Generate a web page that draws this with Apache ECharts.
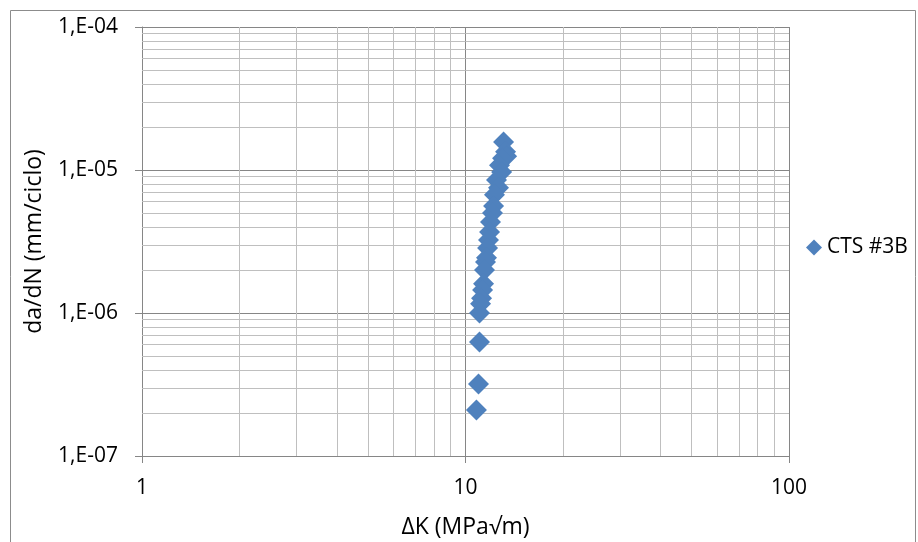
<!DOCTYPE html>
<html>
<head>
<meta charset="utf-8">
<script src="https://cdn.jsdelivr.net/npm/echarts@6/dist/echarts.min.js"></script>
<style>html,body{margin:0;padding:0;background:#fff}#c{width:918px;height:542px}</style>
</head>
<body>
<div id="c"></div>
<script>
const seriesName = 'CTS #3B';
const deltaK = [13.11, 13.30, 13.40, 13.02, 12.74, 12.93, 12.47, 12.65, 12.29, 12.21, 12.12, 11.95, 11.87, 11.78, 11.70, 11.61, 11.53, 11.45, 11.37, 11.29, 11.21, 11.13, 11.05, 11.05, 10.97, 10.81];
const dadN   = [1.57e-5, 1.34e-5, 1.25e-5, 1.21e-5, 1.08e-5, 9.7e-6, 8.5e-6, 7.5e-6, 6.7e-6, 5.6e-6, 5.0e-6, 4.33e-6, 3.69e-6, 3.24e-6, 2.85e-6, 2.43e-6, 2.27e-6, 2.0e-6, 1.6e-6, 1.45e-6, 1.27e-6, 1.16e-6, 1.0e-6, 6.27e-7, 3.19e-7, 2.1e-7];
const xDecades = [1, 10];
const yDecades = [1e-7, 1e-6, 1e-5];
const minorMultipliers = [2, 3, 4, 5, 6, 7, 8, 9];

const points = deltaK.map((k, i) => [k, dadN[i]]);
const xMinor = [];
xDecades.forEach(d => minorMultipliers.forEach(m => xMinor.push([{coord: [d * m, 1e-7]}, {coord: [d * m, 1e-4]}])));
const yMinor = [];
yDecades.forEach(d => minorMultipliers.forEach(m => yMinor.push([{coord: [1, d * m]}, {coord: [100, d * m]}])));

const font = 'Open Sans';
const minorStyle = {color: '#bfbfbf', width: 1, type: 'solid'};
const chart = echarts.init(document.getElementById('c'));
chart.setOption({
  animation: false,
  backgroundColor: '#fff',
  textStyle: {fontFamily: font},
  graphic: [{type: 'rect', shape: {x: 10.5, y: 10.5, width: 905, height: 540}, style: {fill: 'none', stroke: '#8c8c8c', lineWidth: 1}, silent: true}],
  grid: {left: 142, right: 129, top: 27, bottom: 86, containLabel: false, outerBoundsMode: 'none'},
  legend: {
    data: [seriesName], left: 801, top: 232, icon: 'diamond', itemWidth: 16, itemHeight: 16, itemGap: 12,
    textStyle: {fontFamily: font, fontSize: 21, color: '#000'}
  },
  xAxis: {
    type: 'log', logBase: 10, min: 1, max: 100,
    name: 'ΔK (MPa√m)', nameLocation: 'middle', nameGap: 60,
    nameTextStyle: {fontFamily: font, fontSize: 23, color: '#000'},
    axisLine: {show: true, onZero: false, lineStyle: {color: '#868686', width: 1}},
    axisTick: {show: true, length: 7, lineStyle: {color: '#868686'}},
    axisLabel: {fontFamily: font, fontSize: 21, color: '#000', margin: 22},
    splitLine: {show: true, lineStyle: {color: '#868686', width: 1}}
  },
  yAxis: {
    type: 'log', logBase: 10, min: 1e-7, max: 1e-4,
    name: 'da/dN (mm/ciclo)', nameLocation: 'middle', nameGap: 96,
    nameTextStyle: {fontFamily: font, fontSize: 23, color: '#000'},
    axisLine: {show: true, onZero: false, lineStyle: {color: '#868686', width: 1}},
    axisTick: {show: true, length: 7, lineStyle: {color: '#868686'}},
    axisLabel: {
      fontFamily: font, fontSize: 21, color: '#000', margin: 24,
      formatter: v => { const e = Math.round(Math.log10(v)); return '1,E' + (e < 0 ? '-' : '+') + String(Math.abs(e)).padStart(2, '0'); }
    },
    splitLine: {show: true, lineStyle: {color: '#868686', width: 1}}
  },
  series: [
    {
      name: 'minorX', type: 'line', data: [], silent: true, z: 1,
      markLine: {silent: true, symbol: 'none', label: {show: false}, animation: false, lineStyle: minorStyle, emphasis: {disabled: true}, data: xMinor}
    },
    {
      name: 'minorY', type: 'line', data: [], silent: true, z: 1,
      markLine: {silent: true, symbol: 'none', label: {show: false}, animation: false, lineStyle: minorStyle, emphasis: {disabled: true}, data: yMinor}
    },
    {
      name: seriesName, type: 'scatter', symbol: 'diamond', symbolSize: 21, z: 5,
      itemStyle: {color: '#4f81bd', opacity: 1},
      data: points
    }
  ]
});
</script>
</body>
</html>
